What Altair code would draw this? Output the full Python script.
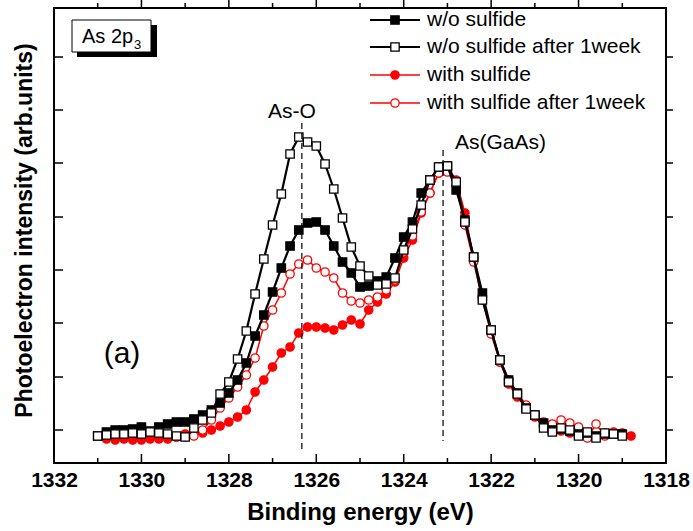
import altair as alt
import pandas as pd

# ---------------- data ----------------
energy = [1331.0, 1330.8, 1330.6, 1330.4, 1330.2, 1330.0, 1329.8, 1329.6, 1329.4, 1329.2,
          1329.0, 1328.8, 1328.6, 1328.4, 1328.2, 1328.0, 1327.8, 1327.6, 1327.4, 1327.2,
          1327.0, 1326.8, 1326.6, 1326.4, 1326.2, 1326.0, 1325.8, 1325.6, 1325.4, 1325.2,
          1325.0, 1324.8, 1324.6, 1324.4, 1324.2, 1324.0, 1323.8, 1323.6, 1323.4, 1323.2,
          1323.0, 1322.8, 1322.6, 1322.4, 1322.2, 1322.0, 1321.8, 1321.6, 1321.4, 1321.2,
          1321.0, 1320.8, 1320.6, 1320.4, 1320.2, 1320.0, 1319.8, 1319.6, 1319.4, 1319.2,
          1319.0, 1318.8]

# w/o sulfide : energy[0:61]
wo_sulfide = [27, 31, 33, 33, 34, 36, 32, 36, 39, 41,
              41, 44, 48, 53, 60, 70, 83, 100, 127, 148,
              171, 195, 217, 233, 240, 241, 233, 217, 201, 190,
              176, 177, 182, 186, 205, 226, 241, 270, 283, 296,
              297, 273, 243, 206, 170, 133, 103, 83, 70, 55,
              48, 40, 33, 34, 32, 29, 30, 27, 29, 29, 29]
# w/o sulfide after 1week : energy[0:61]
wo_sulfide_1w = [27, 28, 29, 29, 30, 29, 31, 30, 29, 27,
                 26, 35, 43, 50, 69, 81, 104, 132, 169, 204,
                 238, 269, 309, 326, 321, 317, 299, 274, 245, 216,
                 197, 187, 178, 179, 185, 213, 234, 258, 283, 296,
                 297, 281, 241, 206, 163, 133, 103, 81, 69, 54,
                 48, 35, 31, 35, 33, 27, 31, 25, 30, 29, 27]
# with sulfide : energy[1:62]
with_sulfide = [24, 23, 24, 23, 23, 24, 24, 24, 26, 29,
                30, 30, 33, 37, 41, 46, 53, 71, 83, 96,
                110, 116, 130, 136, 136, 135, 133, 138, 143, 139,
                153, 161, 169, 181, 205, 223, 250, 270, 290, 293,
                283, 250, 205, 165, 131, 101, 79, 66, 55, 46,
                37, 32, 32, 30, 31, 29, 26, 30, 31, 30, 27]
# with sulfide after 1week : energy[9:61]
with_sulfide_1w = [26, 26, 27, 33, 43, 55, 65, 76, 88, 105,
                   137, 153, 170, 189, 199, 203, 195, 191, 185, 170,
                   162, 160, 163, 166, 173, 183, 211, 227, 251, 270,
                   290, 291, 278, 238, 201, 163, 129, 101, 83, 70,
                   58, 48, 41, 39, 43, 40, 36, 25, 39, 27, 30, 29]

series_names = ["w/o sulfide", "w/o sulfide after 1week",
                "with sulfide", "with sulfide after 1week"]

peak_names = ["As-O", "As(GaAs)"]
peak_energy = [1326.33, 1323.1]
peak_line_top = [340, 313]
peak_line_bottom = [12, 22]

x_label_values = [1318, 1320, 1322, 1324, 1326, 1328, 1330, 1332]
x_major_ticks = [1320, 1322, 1324, 1326, 1328, 1330]
x_minor_ticks = [1319, 1321, 1323, 1325, 1327, 1329, 1331]
y_ticks = [33, 86, 140, 193, 246, 300, 353, 406]

x_title = "Binding energy (eV)"
y_title = "Photoelectron intensity (arb.units)"
box_text = "As 2p"
box_sub = "3"
panel_label = "(a)"

# ---------------- styling ----------------
FONT = "Liberation Sans"
W, H = 612, 455
RED = "#ff0000"

xenc = alt.X("E:Q",
             scale=alt.Scale(domain=[1318, 1332], reverse=True, nice=False, zero=False),
             axis=alt.Axis(values=x_label_values, format="d", ticks=False, domain=False,
                           grid=False, labelFont=FONT, labelFontWeight="bold",
                           labelFontSize=21, labelColor="black", labelPadding=6,
                           labelOverlap=False, labelFlush=False, labelBound=False,
                           title=x_title, titleFont=FONT, titleFontSize=24,
                           titleFontWeight="bold", titleColor="black",
                           titleY=49, titleBaseline="middle"))
yenc = alt.Y("I:Q",
             scale=alt.Scale(domain=[0, 455], nice=False, zero=False),
             axis=alt.Axis(labels=False, ticks=False, domain=False, grid=False,
                           title=y_title, titleFont=FONT, titleFontSize=23,
                           titleFontWeight="bold", titleColor="black",
                           titleX=-30, titleY=222, titleAngle=270,
                           titleBaseline="middle"))


def series_layers(E, I, color, shape, filled, width):
    df = pd.DataFrame({"E": E, "I": I})
    base = alt.Chart(df).encode(x=xenc, y=yenc)
    line = base.mark_line(color=color, strokeWidth=width)
    pts = base.mark_point(shape=shape, size=70, filled=True,
                          fill=color if filled else "white",
                          stroke=color, strokeWidth=1.3, opacity=1)
    return [line, pts]


layers = []
layers += series_layers(energy[1:62], with_sulfide, RED, "circle", True, 1.5)
layers += series_layers(energy[9:61], with_sulfide_1w, RED, "circle", False, 1.5)
layers += series_layers(energy[0:61], wo_sulfide, "black", "square", True, 2.2)
layers += series_layers(energy[0:61], wo_sulfide_1w, "black", "square", False, 2.2)

# dashed peak markers
peak_df = pd.DataFrame({"E": peak_energy, "I": peak_line_top, "I2": peak_line_bottom})
layers.append(alt.Chart(peak_df).mark_rule(color="black", strokeWidth=1.2,
                                           strokeDash=[6, 4]).encode(
    x=xenc, y=yenc, y2="I2:Q"))

# ticks (inward on bottom / left, outward on top / right)
bmaj = pd.DataFrame({"E": x_major_ticks})
bmin = pd.DataFrame({"E": x_minor_ticks})
for df, ln in ((bmaj, 9), (bmin, 5)):
    layers.append(alt.Chart(df).mark_rule(color="black", strokeWidth=1.5).encode(
        x=xenc, y=alt.value(H), y2=alt.value(H - ln)))
    layers.append(alt.Chart(df).mark_rule(color="black", strokeWidth=1.5).encode(
        x=xenc, y=alt.value(0), y2=alt.value(-ln)))
ydf = pd.DataFrame({"I": y_ticks})
layers.append(alt.Chart(ydf).mark_rule(color="black", strokeWidth=1.5).encode(
    y=yenc, x=alt.value(0), x2=alt.value(9)))
layers.append(alt.Chart(ydf).mark_rule(color="black", strokeWidth=1.5).encode(
    y=yenc, x=alt.value(W), x2=alt.value(W + 7)))

# peak labels
layers.append(alt.Chart(pd.DataFrame({"t": [peak_names[0]]})).mark_text(
    font=FONT, fontSize=21, align="center", baseline="middle", color="black").encode(
    x=alt.value(238), y=alt.value(104), text="t:N"))
layers.append(alt.Chart(pd.DataFrame({"t": [peak_names[1]]})).mark_text(
    font=FONT, fontSize=21, align="left", baseline="middle", color="black").encode(
    x=alt.value(401), y=alt.value(135), text="t:N"))

# panel label
layers.append(alt.Chart(pd.DataFrame({"t": [panel_label]})).mark_text(
    font=FONT, fontSize=30, align="center", baseline="middle", color="black").encode(
    x=alt.value(68), y=alt.value(346), text="t:N"))

# "As 2p3" box with shadow
one = pd.DataFrame({"a": [0]})
layers.append(alt.Chart(one).mark_rect(color="black").encode(
    x=alt.value(23), x2=alt.value(103), y=alt.value(17), y2=alt.value(49)))
layers.append(alt.Chart(one).mark_rect(fill="white", stroke="black", strokeWidth=1).encode(
    x=alt.value(18), x2=alt.value(97), y=alt.value(12), y2=alt.value(44)))
layers.append(alt.Chart(pd.DataFrame({"t": [box_text]})).mark_text(
    font=FONT, fontSize=20, align="left", baseline="alphabetic", color="black").encode(
    x=alt.value(28), y=alt.value(35), text="t:N"))
layers.append(alt.Chart(pd.DataFrame({"t": [box_sub]})).mark_text(
    font=FONT, fontSize=13, align="left", baseline="alphabetic", color="black").encode(
    x=alt.value(80), y=alt.value(41), text="t:N"))

# manual legend
legend_y = [12, 39, 67, 95]
legend_style = [("black", "square", True), ("black", "square", False),
                (RED, "circle", True), (RED, "circle", False)]
for name, yy, (col, shp, fil) in zip(series_names, legend_y, legend_style):
    d = pd.DataFrame({"t": [name]})
    layers.append(alt.Chart(d).mark_rule(color=col, strokeWidth=2.2 if col == "black" else 1.5).encode(
        x=alt.value(316), x2=alt.value(366), y=alt.value(yy)))
    layers.append(alt.Chart(d).mark_point(shape=shp, size=70, filled=True,
                                          fill=col if fil else "white", stroke=col,
                                          strokeWidth=1.3, opacity=1).encode(
        x=alt.value(341), y=alt.value(yy)))
    layers.append(alt.Chart(d).mark_text(font=FONT, fontSize=21, align="left",
                                         baseline="middle", color="black").encode(
        x=alt.value(373), y=alt.value(yy), text="t:N"))

chart = alt.layer(*layers).properties(
    width=W, height=H,
    padding={"left": 54, "top": 8, "right": 27, "bottom": 68},
    autosize=alt.AutoSizeParams(type="none"),
    background="white",
).configure_view(stroke="black", strokeWidth=2)

chart.save("out.html", embed_options={"renderer": "svg", "actions": False})
